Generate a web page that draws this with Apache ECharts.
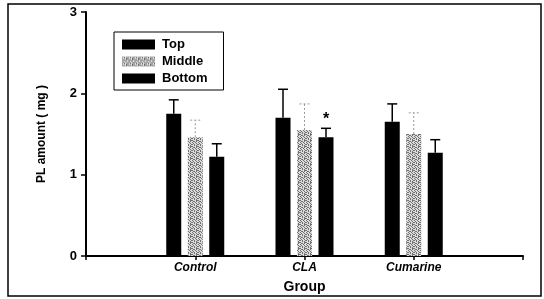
<!DOCTYPE html>
<html>
<head>
<meta charset="utf-8">
<script src="https://cdn.jsdelivr.net/npm/echarts@6/dist/echarts.min.js"></script>
<style>
  html, body { margin: 0; padding: 0; background: #fff; }
  #chart { width: 544px; height: 299px; }
</style>
</head>
<body>
<div id="chart"></div>
<script>
// --- data ---
const groups = ['Control', 'CLA', 'Cumarine'];
const seriesNames = ['Top', 'Middle', 'Bottom'];
const topMean = [1.75, 1.70, 1.65];
const topErr = [1.92, 2.05, 1.87];
const midMean = [1.46, 1.55, 1.50];
const midErr = [1.67, 1.87, 1.76];
const botMean = [1.22, 1.46, 1.27];
const botErr = [1.38, 1.57, 1.43];
const botMarks = ['', '*', ''];
const yTicks = [0, 1, 2, 3];

// stippled gray fill for the Middle bars (fixed 6x6 tile)
function makePattern() {
    const rows = [
        '#.#..#',
        '..#.#.',
        '#...##',
        '.##.#.',
        '#..#..',
        '.#..#.'
    ];
    const c = document.createElement('canvas');
    c.width = 6; c.height = 6;
    const ctx = c.getContext('2d');
    ctx.fillStyle = '#dcdcdc';
    ctx.fillRect(0, 0, 6, 6);
    ctx.fillStyle = '#707070';
    rows.forEach((r, y) => r.split('').forEach((ch, x) => { if (ch === '#') ctx.fillRect(x, y, 1, 1); }));
    return { image: c, repeat: 'repeat' };
}
const midFill = makePattern();

const BAR_W = 15;
const STEP = 21.5;

function barSeries(name, means, errs, idx, fill, errStyle, marks) {
    return {
        name: name,
        type: 'custom',
        itemStyle: { color: fill },
        data: means.map((v, i) => [i + 1, v, errs[i]]),
        renderItem: function (params, api) {
            const base = api.coord([api.value(0), 0]);
            const top = api.coord([api.value(0), api.value(1)]);
            const err = api.coord([api.value(0), api.value(2)]);
            const cx = base[0] + (idx - 1) * STEP;
            const children = [
                { type: 'line', shape: { x1: cx, y1: top[1], x2: cx, y2: err[1] }, style: errStyle },
                { type: 'line', shape: { x1: cx - 5, y1: err[1], x2: cx + 5, y2: err[1] }, style: errStyle },
                { type: 'rect', shape: { x: cx - BAR_W / 2, y: top[1], width: BAR_W, height: base[1] - top[1] },
                  style: { fill: fill } }
            ];
            const m = marks ? marks[params.dataIndex] : '';
            if (m) {
                children.push({ type: 'text', style: { text: m, x: cx, y: err[1] - 1, align: 'center',
                    verticalAlign: 'bottom', font: 'bold 16px "Liberation Sans"', fill: '#000' } });
            }
            return { type: 'group', children: children };
        }
    };
}

const chart = echarts.init(document.getElementById('chart'));
chart.setOption({
    animation: false,
    textStyle: { fontFamily: '"Liberation Sans", Arial, sans-serif' },
    grid: { left: 86, right: 21, top: 12, bottom: 43 },
    graphic: [{
        type: 'rect', shape: { x: 8, y: 4, width: 533, height: 292 },
        style: { fill: 'none', stroke: '#000', lineWidth: 1.5 }, z: 0
    }],
    legend: {
        left: 114, top: 32, orient: 'vertical',
        width: 110,
        padding: [6, 16, 5, 8],
        borderColor: '#000', borderWidth: 1,
        itemWidth: 33, itemHeight: 10, itemGap: 4,
        icon: 'rect',
        data: seriesNames,
        textStyle: { fontWeight: 'bold', fontSize: 13, color: '#000', padding: [0, 0, 0, 2] }
    },
    xAxis: {
        type: 'value', min: 0, max: 4, interval: 1,
        name: 'Group', nameLocation: 'middle', nameGap: 24,
        nameTextStyle: { fontWeight: 'bold', fontSize: 14, color: '#000' },
        axisLine: { lineStyle: { color: '#000', width: 2 } },
        axisTick: { show: true, length: 4, inside: false, lineStyle: { color: '#000', width: 1.5 } },
        splitLine: { show: false },
        axisLabel: {
            color: '#000', fontWeight: 'bold', fontStyle: 'italic', fontSize: 12, margin: 6,
            formatter: v => groups[v - 1] || ''
        }
    },
    yAxis: {
        type: 'value', min: yTicks[0], max: yTicks[yTicks.length - 1], interval: 1,
        name: 'PL amount ( mg )', nameLocation: 'middle', nameGap: 38,
        nameTextStyle: { fontWeight: 'bold', fontSize: 12, color: '#000' },
        axisLine: { show: true, lineStyle: { color: '#000', width: 2 } },
        axisTick: { show: true, length: 5, lineStyle: { color: '#000', width: 1.5 } },
        splitLine: { show: false },
        axisLabel: { color: '#000', fontWeight: 'bold', fontSize: 13, margin: 9 }
    },
    series: [
        barSeries('Top', topMean, topErr, 0, '#000', { stroke: '#000', lineWidth: 1.5 }),
        barSeries('Middle', midMean, midErr, 1, midFill, { stroke: '#999', lineWidth: 1, lineDash: [2, 2] }),
        barSeries('Bottom', botMean, botErr, 2, '#000', { stroke: '#000', lineWidth: 1.5 }, botMarks)
    ]
});
</script>
</body>
</html>
